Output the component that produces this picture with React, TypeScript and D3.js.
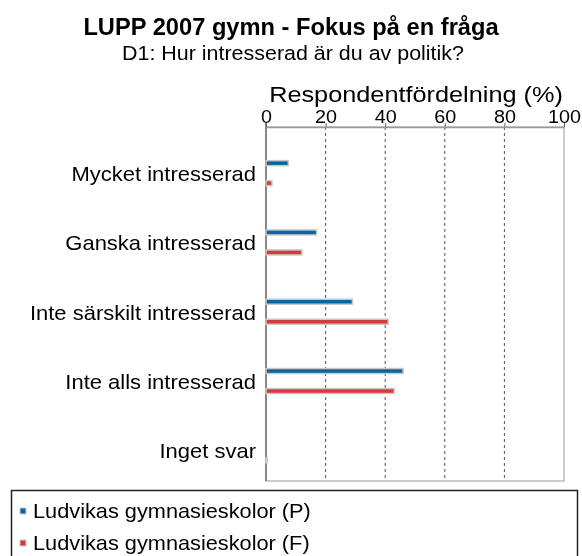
import React, { useRef, useEffect } from 'react';
import * as d3 from 'd3';

const categories = [
  'Mycket intresserad',
  'Ganska intresserad',
  'Inte särskilt intresserad',
  'Inte alls intresserad',
  'Inget svar',
];
const seriesNames = ['Ludvikas gymnasieskolor (P)', 'Ludvikas gymnasieskolor (F)'];
const valuesP = [7.5, 17, 29, 46, 0];
const valuesF = [2, 12, 41, 43, 0.4];
const xTicks = [0, 20, 40, 60, 80, 100];

const colors = ['#0b64a0', '#d63a3c'];
const font = '"Liberation Sans", Arial, sans-serif';

// wide text: the reference glyphs are stretched horizontally
const wide = (x, y, sx) => `translate(${x}, ${y}) scale(${sx}, 1)`;

export default function App() {
  const ref = useRef(null);

  useEffect(() => {
    const width = 582;
    const height = 556;
    const plot = { left: 266, right: 564, top: 127, bottom: 481 };

    const svg = d3
      .select(ref.current)
      .call((g) => g.select('svg').remove())
      .append('svg')
      .attr('width', width)
      .attr('height', height)
      .style('display', 'block')
      .style('font-family', font);

    // titles
    svg.append('text')
      .attr('transform', wide(291, 35, 1.03))
      .attr('text-anchor', 'middle')
      .attr('font-size', 23).attr('font-weight', 'bold')
      .text('LUPP 2007 gymn - Fokus på en fråga');
    svg.append('text')
      .attr('transform', wide(293, 60, 1.1))
      .attr('text-anchor', 'middle')
      .attr('font-size', 19.5)
      .text('D1: Hur intresserad är du av politik?');

    const x = d3.scaleLinear().domain([0, 100]).range([plot.left, plot.right]);
    const y = d3.scaleBand().domain(categories).range([138.5, 485]);

    svg.append('text')
      .attr('transform', wide((plot.left + plot.right) / 2 + 1, 102, 1.15))
      .attr('text-anchor', 'middle')
      .attr('font-size', 22)
      .text('Respondentfördelning (%)');

    // grid
    svg.append('g')
      .selectAll('line')
      .data(xTicks.slice(1, -1))
      .join('line')
      .attr('x1', (d) => x(d)).attr('x2', (d) => x(d))
      .attr('y1', plot.top).attr('y2', plot.bottom)
      .attr('stroke', '#555')
      .attr('stroke-dasharray', '3,3');

    // frame
    svg.append('rect')
      .attr('x', plot.left).attr('y', plot.top)
      .attr('width', plot.right - plot.left)
      .attr('height', plot.bottom - plot.top)
      .attr('fill', 'none')
      .attr('stroke', '#bbb')
      .attr('stroke-width', 1.5);
    svg.append('line')
      .attr('x1', plot.left).attr('x2', plot.left)
      .attr('y1', plot.top - 4).attr('y2', plot.bottom)
      .attr('stroke', '#888').attr('stroke-width', 2);

    // top axis
    const axis = svg.append('g')
      .attr('transform', `translate(0, ${plot.top})`)
      .call(d3.axisTop(x).tickValues(xTicks).tickSize(4).tickPadding(0).tickSizeOuter(0));
    axis.select('.domain').attr('stroke', '#999').attr('stroke-width', 1.5);
    axis.selectAll('.tick line').attr('stroke', '#666');
    axis.selectAll('.tick text')
      .attr('font-size', 17.5)
      .attr('font-family', font)
      .attr('fill', '#000')
      .attr('y', 0)
      .attr('dy', 0)
      .attr('transform', 'translate(0, -4) scale(1.13, 1)');

    // category labels
    svg.append('g')
      .selectAll('text')
      .data(categories)
      .join('text')
      .attr('transform', (d) => wide(256, y(d) + y.bandwidth() / 2 + 8, 1.1))
      .attr('text-anchor', 'end')
      .attr('font-size', 20)
      .text((d) => d);

    // bars
    [valuesP, valuesF].forEach((values, i) => {
      svg.append('g')
        .selectAll('rect')
        .data(values)
        .join('rect')
        .attr('x', x(0))
        .attr('y', (d, j) => y(categories[j]) + y.bandwidth() / 2 - 12.5 + i * 20)
        .attr('width', (d) => x(d) - x(0))
        .attr('height', 5)
        .attr('fill', (d) => (d > 0.5 ? colors[i] : '#ccc'))
        .attr('stroke', '#c8c8c8')
        .attr('stroke-width', 1.5)
        .style('display', (d) => (d > 0 ? null : 'none'));
    });

    // legend
    svg.append('rect')
      .attr('x', 11.5).attr('y', 490.5)
      .attr('width', 566).attr('height', 80)
      .attr('fill', 'none')
      .attr('stroke', '#222')
      .attr('stroke-width', 1.5);
    const legend = svg.append('g')
      .selectAll('g')
      .data(seriesNames)
      .join('g')
      .attr('transform', (d, i) => `translate(20, ${511 + i * 32})`);
    legend.append('rect')
      .attr('x', 0).attr('y', -3)
      .attr('width', 6).attr('height', 6)
      .attr('fill', (d, i) => colors[i])
      .attr('stroke', '#ccc');
    legend.append('text')
      .attr('transform', wide(13, 7, 1.088))
      .attr('font-size', 20)
      .text((d) => d);
  }, []);

  return (
    <div
      ref={ref}
      style={{ position: 'fixed', left: 0, top: 0, width: 582, height: 556, overflow: 'hidden' }}
    ></div>
  );
}
